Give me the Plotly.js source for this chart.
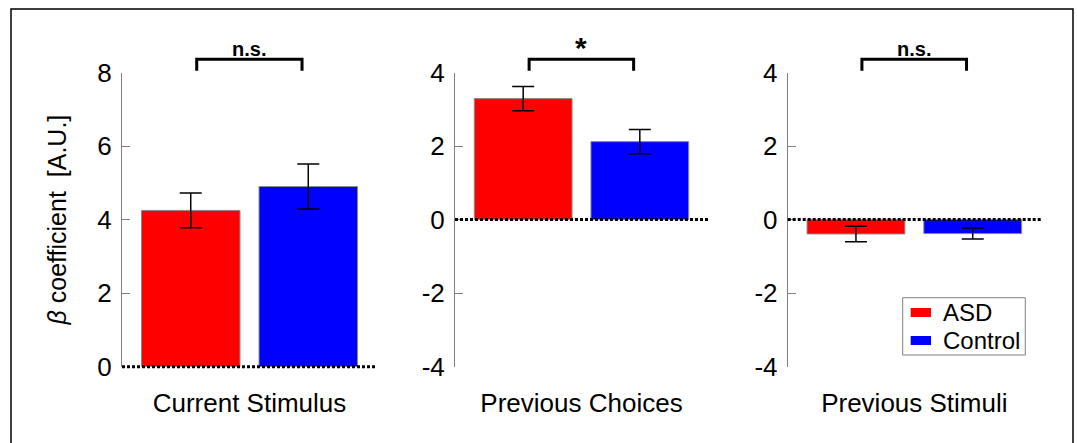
<!DOCTYPE html>
<html>
<head>
<meta charset="utf-8">
<script src="https://cdn.plot.ly/plotly-3.0.1.min.js"></script>
<style>html,body{margin:0;padding:0;background:#fff;}#chart{width:1077px;height:443px;}</style>
</head>
<body>
<div id="chart"></div>
<script>
// ---- data ----
const categories = ['Current Stimulus', 'Previous Choices', 'Previous Stimuli'];
const groups = ['ASD', 'Control'];
const asdMean = [4.25, 3.29, -0.39];
const asdErr = [0.47, 0.33, 0.21];
const controlMean = [4.90, 2.12, -0.38];
const controlErr = [0.61, 0.33, 0.15];
const sigLabels = ['n.s.', '*', 'n.s.'];
const yRanges = [[0, 8], [-4, 4], [-4, 4]];
const yTicks = [[0, 2, 4, 6, 8], [-4, -2, 0, 2, 4], [-4, -2, 0, 2, 4]];
const yTickText = [['0', '2', '4', '6', '8'], ['-4', '-2', '0', '2', '4'], ['-4', '-2', '0', '2', '4']];
const yTitle = '<i>β</i> coefficient&nbsp;&nbsp;[A.U.]';

// ---- layout helpers ----
const W = 1077, H = 443;
const FONT = 'Liberation Sans, Arial, Helvetica, sans-serif';
const xDomains = [[122 / W, 377 / W], [455 / W, 708 / W], [787.7 / W, 1041 / W]];
const yDomain = [1 - 366.7 / H, 1 - 72.5 / H];
const colors = {ASD: '#ff0000', Control: '#0000ff'};

const traces = [];
const layout = {
  width: W, height: H,
  margin: {l: 0, r: 0, t: 0, b: 0},
  paper_bgcolor: '#ffffff', plot_bgcolor: 'rgba(0,0,0,0)',
  font: {family: FONT, color: '#000', size: 25},
  barmode: 'group', bargap: 0.078, bargroupgap: 0.162,
  showlegend: false,
  shapes: [], annotations: []
};

categories.forEach((cat, i) => {
  const n = i === 0 ? '' : String(i + 1);
  const xa = 'x' + n, ya = 'y' + n;
  const means = [asdMean[i], controlMean[i]];
  const errs = [asdErr[i], controlErr[i]];
  groups.forEach((g, j) => {
    traces.push({
      type: 'bar', name: g, x: [cat], y: [means[j]],
      xaxis: xa, yaxis: ya, legendgroup: g, showlegend: false,
      marker: {color: colors[g], line: {color: '#8a8a8a', width: 1}},
      error_y: {type: 'data', array: [errs[j]], visible: true, color: '#000', thickness: 1.5, width: 11},
      hoverinfo: 'skip'
    });
  });
  layout['xaxis' + n] = {
    domain: xDomains[i], anchor: ya, type: 'category', range: [-0.5, 0.5],
    showline: false, showgrid: false, zeroline: false, ticks: '',
    tickfont: {size: 26, family: FONT}, ticklabelstandoff: 18, fixedrange: true
  };
  layout['yaxis' + n] = {
    domain: yDomain, anchor: xa, range: yRanges[i], tickvals: yTicks[i], ticktext: yTickText[i],
    ticks: 'inside', ticklen: 8, tickcolor: '#808080', tickwidth: 1,
    showline: true, linecolor: '#808080', linewidth: 1,
    showgrid: false, zeroline: false, tickfont: {size: 26, family: FONT},
    ticklabelstandoff: 4, fixedrange: true,
    title: i === 0 ? {text: yTitle, font: {size: 25, family: FONT}, standoff: 23} : {text: ''}
  };
  // dotted zero line (paper coords so it is not clipped at the plot edge)
  const r = yRanges[i];
  const yZero = yDomain[0] + (0 - r[0]) / (r[1] - r[0]) * (yDomain[1] - yDomain[0]);
  layout.shapes.push({type: 'line', xref: 'paper', x0: xDomains[i][0], x1: xDomains[i][1],
    yref: 'paper', y0: yZero, y1: yZero,
    line: {color: '#000', width: 3, dash: '3px,2px'}, layer: 'above'});
  // significance bracket
  const d = xDomains[i], w = d[1] - d[0];
  const bx0 = d[0] + 0.293 * w, bx1 = d[0] + 0.706 * w;
  const yt = 1 - 59.3 / H, yb = 1 - 70.7 / H;
  layout.shapes.push({type: 'path', xref: 'paper', yref: 'paper',
    path: `M${bx0},${yb} L${bx0},${yt} L${bx1},${yt} L${bx1},${yb}`,
    line: {color: '#000', width: 3}});
  const isStar = sigLabels[i] === '*';
  layout.annotations.push({xref: 'paper', yref: 'paper', x: (bx0 + bx1) / 2,
    y: isStar ? 1 - 48 / H : 1 - 49 / H, text: '<b>' + sigLabels[i] + '</b>', showarrow: false,
    xanchor: 'center', yanchor: 'middle', font: {size: isStar ? 30 : 20, family: FONT}});
});

// legend box (drawn manually to match the compact original)
layout.shapes.push({type: 'rect', xref: 'paper', yref: 'paper',
  x0: 902.7 / W, x1: 1025.3 / W, y0: 1 - 355 / H, y1: 1 - 297.7 / H,
  line: {color: '#808080', width: 1}, fillcolor: '#ffffff', layer: 'above'});
const legendRows = [312.5, 340.5];
groups.forEach((g, j) => {
  const cy = legendRows[j];
  layout.shapes.push({type: 'rect', xref: 'paper', yref: 'paper',
    x0: 910.7 / W, x1: 931 / W, y0: 1 - (cy + 4.5) / H, y1: 1 - (cy - 4.5) / H,
    line: {width: 0}, fillcolor: colors[g], layer: 'above'});
  layout.annotations.push({xref: 'paper', yref: 'paper', x: 942 / W, y: 1 - cy / H,
    text: g, showarrow: false, xanchor: 'left', yanchor: 'middle', borderpad: 0,
    font: {size: 24, family: FONT}});
});

// outer figure frame
layout.shapes.push({type: 'rect', xref: 'paper', yref: 'paper',
  x0: 11 / W, x1: 1073 / W, y0: -0.1, y1: 1 - 9 / H, line: {color: '#000', width: 1.5}});

Plotly.newPlot('chart', traces, layout, {staticPlot: true, displayModeBar: false});
</script>
</body>
</html>
